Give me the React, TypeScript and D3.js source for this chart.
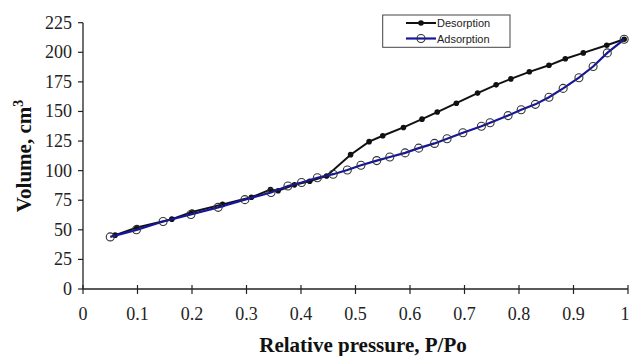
import React from 'react'
import * as d3 from 'd3'

// adsorption branch (open circles, blue line)
const adsX = [0.05, 0.098, 0.147, 0.198, 0.248, 0.297, 0.345, 0.376, 0.401, 0.43, 0.459, 0.485, 0.51, 0.539, 0.563, 0.591, 0.616, 0.645, 0.668, 0.697, 0.731, 0.747, 0.78, 0.804, 0.83, 0.855, 0.881, 0.91, 0.936, 0.962, 0.993]
const adsY = [44, 50, 57, 63, 69, 75.5, 81.5, 87, 90, 94, 97, 100.5, 104.5, 108.5, 111.5, 115, 119, 123, 127, 132, 137.5, 140.5, 146.5, 151.5, 156, 162, 169.5, 178.5, 188, 199.5, 211]

// desorption branch (filled dots, black line)
const desX = [0.059, 0.099, 0.163, 0.2, 0.256, 0.309, 0.344, 0.358, 0.388, 0.416, 0.447, 0.491, 0.525, 0.55, 0.588, 0.622, 0.65, 0.685, 0.724, 0.758, 0.785, 0.819, 0.855, 0.885, 0.918, 0.961, 0.993]
const desY = [45.5, 52, 59, 65, 71.5, 77.5, 84, 83, 88, 91, 95.5, 113.5, 124.5, 129.5, 136.5, 143.5, 149.5, 157, 165.5, 172.5, 177.5, 183.5, 189, 194.5, 199.5, 206, 211]

const xTicks = [0, 0.1, 0.2, 0.3, 0.4, 0.5, 0.6, 0.7, 0.8, 0.9, 1]
const yTicks = [0, 25, 50, 75, 100, 125, 150, 175, 200, 225]

const BLUE = '#16169c'
const serif = '"Liberation Serif", "Times New Roman", serif'
const sans = '"Liberation Sans", Arial, sans-serif'

export default function App() {
  const x = d3.scaleLinear().domain([0, 1]).range([83, 628])
  const y = d3.scaleLinear().domain([0, 225]).range([289, 22.7])

  const line = d3.line<[number, number]>().x(d => x(d[0])).y(d => y(d[1]))
  const ads: [number, number][] = adsX.map((v, i) => [v, adsY[i]])
  const des: [number, number][] = desX.map((v, i) => [v, desY[i]])

  return (
    <svg width={630} height={356} style={{ position: 'absolute', left: 0, top: 0, background: '#fff' }}>
      {/* axes */}
      <line x1={x(0)} x2={x(1)} y1={y(0)} y2={y(0)} stroke="#222" strokeWidth={1.3} />
      <line x1={x(0)} x2={x(0)} y1={y(0)} y2={y(225)} stroke="#222" strokeWidth={1.3} />
      {xTicks.map(t => (
        <g key={'x' + t}>
          <line x1={x(t)} x2={x(t)} y1={y(0) - 4} y2={y(0) + 5} stroke="#222" strokeWidth={1.2} />
          <text x={t === 1 ? x(t) - 3 : x(t)} y={320} textAnchor="middle" fontFamily={serif} fontSize={18} fill="#222">{String(t)}</text>
        </g>
      ))}
      {yTicks.map(t => (
        <g key={'y' + t}>
          <line x1={x(0) - 5} x2={x(0)} y1={y(t)} y2={y(t)} stroke="#222" strokeWidth={1.2} />
          <text x={72} y={y(t) + 6} textAnchor="end" fontFamily={serif} fontSize={18} fill="#222">{t}</text>
        </g>
      ))}

      {/* titles */}
      <text x={363} y={352} textAnchor="middle" fontFamily={serif} fontSize={21} fontWeight="bold" fill="#111">Relative pressure, P/Po</text>
      <text transform="translate(31,156) rotate(-90)" textAnchor="middle" fontFamily={serif} fontSize={21} fontWeight="bold" fill="#111">
        Volume, cm<tspan fontSize={14} dy={-8}>3</tspan>
      </text>

      {/* series */}
      <path d={line(des) || ''} fill="none" stroke="#111" strokeWidth={2} />
      {des.map((d, i) => (
        <circle key={'d' + i} cx={x(d[0])} cy={y(d[1])} r={2.8} fill="#111" />
      ))}
      <path d={line(ads) || ''} fill="none" stroke={BLUE} strokeWidth={2.2} />
      {ads.map((d, i) => (
        <circle key={'a' + i} cx={x(d[0])} cy={y(d[1])} r={4} fill="none" stroke="#333" strokeWidth={1.1} />
      ))}

      {/* legend */}
      <rect x={382.7} y={15} width={127.3} height={32.3} fill="#fff" stroke="#444" strokeWidth={1} />
      <line x1={406} x2={436} y1={23} y2={23} stroke="#111" strokeWidth={2} />
      <circle cx={421} cy={23} r={2.8} fill="#111" />
      <text x={437} y={27} fontFamily={sans} fontSize={11} fill="#222">Desorption</text>
      <line x1={406} x2={436} y1={38.5} y2={38.5} stroke={BLUE} strokeWidth={2.2} />
      <circle cx={421} cy={38.5} r={4} fill="none" stroke="#333" strokeWidth={1.1} />
      <text x={437} y={42.5} fontFamily={sans} fontSize={11} fill="#222">Adsorption</text>
    </svg>
  )
}
